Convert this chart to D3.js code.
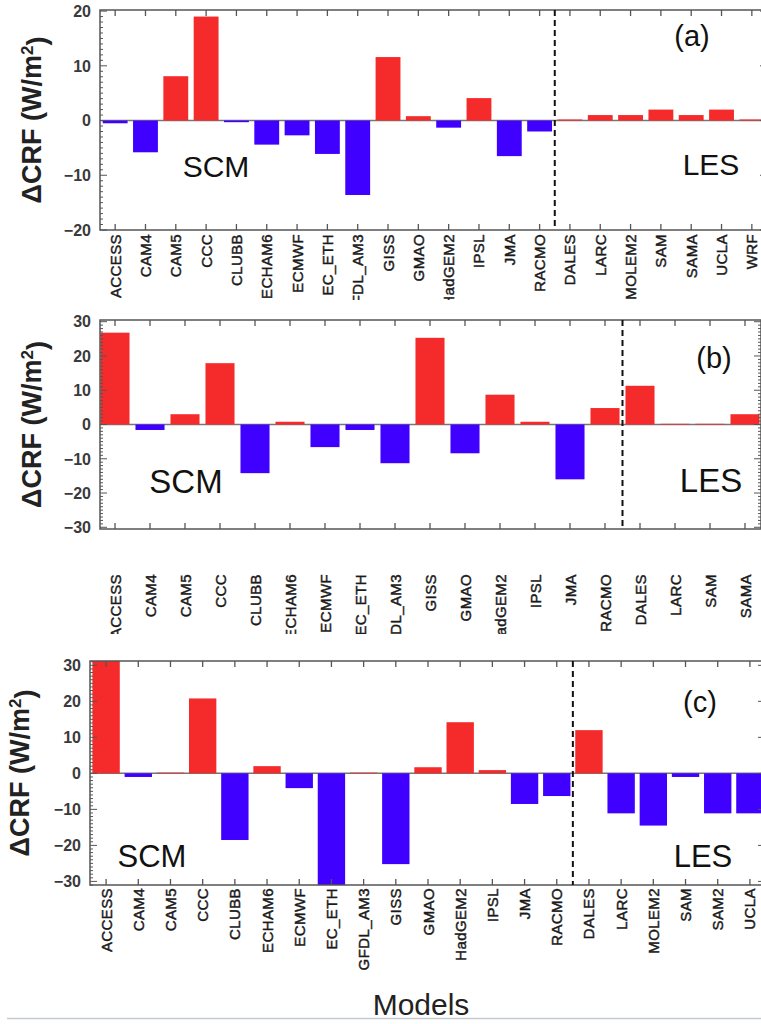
<!DOCTYPE html>
<html>
<head>
<meta charset="utf-8">
<script src="https://cdn.jsdelivr.net/npm/d3@7"></script>
<style>
  body { margin: 0; background: #fff; }
  svg { display: block; }
</style>
</head>
<body>
<div id="chart-container"></div>
<script>
// Model names and Delta CRF values (W/m2)
var modelsA = ["ACCESS", "CAM4", "CAM5", "CCC", "CLUBB", "ECHAM6", "ECMWF", "EC_ETH", "GFDL_AM3", "GISS", "GMAO",
  "HadGEM2", "IPSL", "JMA", "RACMO", "DALES", "LARC", "MOLEM2", "SAM", "SAMA", "UCLA", "WRF"];
var crfA = [-0.5, -5.8, 8.1, 19.0, -0.3, -4.4, -2.7, -6.1, -13.6, 11.6, 0.8,
  -1.3, 4.1, -6.5, -2.0, 0.2, 1.0, 1.0, 2.0, 1.0, 2.0, 0.2];

var modelsB = ["ACCESS", "CAM4", "CAM5", "CCC", "CLUBB", "ECHAM6", "ECMWF", "EC_ETH", "GFDL_AM3", "GISS", "GMAO",
  "HadGEM2", "IPSL", "JMA", "RACMO", "DALES", "LARC", "SAM", "SAMA"];
var crfB = [26.8, -1.6, 3.0, 17.9, -14.2, 0.8, -6.6, -1.6, -11.3, 25.3, -8.4,
  8.7, 0.8, -16.0, 4.8, 11.3, 0.2, 0.2, 3.0];

var modelsC = ["ACCESS", "CAM4", "CAM5", "CCC", "CLUBB", "ECHAM6", "ECMWF", "EC_ETH", "GFDL_AM3", "GISS", "GMAO",
  "HadGEM2", "IPSL", "JMA", "RACMO", "DALES", "LARC", "MOLEM2", "SAM", "SAM2", "UCLA"];
var crfC = [31.5, -1.0, 0.2, 20.8, -18.5, 2.0, -4.1, -31.5, 0.2, -25.2, 1.7,
  14.2, 0.9, -8.5, -6.3, 12.0, -11.1, -14.5, -1.0, -11.1, -11.1];

var yTicksA = [-20, -10, 0, 10, 20];
var yTicksBC = [-30, -20, -10, 0, 10, 20, 30];
var lastScm = "RACMO"; // dashed line goes after this model

var red = "#f52a2a", blue = "#3f00ff";

var width = 761, height = 1024;

var svg = d3.select("#chart-container")
  .append("svg")
  .attr("width", width)
  .attr("height", height)
  .style("font-family", "'Liberation Sans', Arial, sans-serif");

var defs = svg.append("defs");

// panel layouts (pixels)
var panels = [
  { id: "a", models: modelsA, values: crfA, ticks: yTicksA, domain: [-20, 20.2],
    left: 100, right: 767, top: 10, bottom: 230, band: [100, 767], pad: 0.18,
    labelTop: 234, labelClip: 300, titleX: 41, tagX: 692, tagY: 46, tagSize: 29,
    scmX: 216, scmY: 177, lesX: 711, lesY: 175, textSize: 30 },
  { id: "b", models: modelsB, values: crfB, ticks: yTicksBC, domain: [-30.5, 30.5],
    left: 100, right: 761, top: 320, bottom: 529, band: [97.5, 762.5], pad: 0.17,
    labelTop: 574, labelClip: 634, titleX: 41, tagX: 714, tagY: 368, tagSize: 29,
    scmX: 186, scmY: 493, lesX: 711, lesY: 492, textSize: 33 },
  { id: "c", models: modelsC, values: crfC, ticks: yTicksBC, domain: [-31, 31.2],
    left: 90, right: 765, top: 661, bottom: 885, band: [90, 766], pad: 0.15,
    labelTop: 888, labelClip: 1000, titleX: 29, tagX: 700, tagY: 712, tagSize: 29,
    scmX: 152, scmY: 867, lesX: 703, lesY: 867, textSize: 31 }
];

panels.forEach(function(p) {
  var g = svg.append("g").attr("class", "panel-" + p.id);

  var x = d3.scaleBand()
    .domain(p.models)
    .range(p.band)
    .paddingInner(p.pad)
    .paddingOuter(p.pad / 2);

  var y = d3.scaleLinear()
    .domain(p.domain)
    .range([p.bottom, p.top])
    .clamp(true);

  var cx = function(m) { return x(m) + x.bandwidth() / 2; };

  // zero line
  g.append("line")
    .attr("x1", p.left).attr("x2", p.right)
    .attr("y1", y(0)).attr("y2", y(0))
    .attr("stroke", "#777")
    .attr("stroke-width", 1.5);

  // bars
  g.selectAll(".bar")
    .data(p.models.map(function(m, i) { return { model: m, value: p.values[i] }; }))
    .enter().append("rect")
    .attr("class", "bar")
    .attr("x", function(d) { return x(d.model); })
    .attr("width", x.bandwidth())
    .attr("y", function(d) { return Math.min(y(d.value), y(0)); })
    .attr("height", function(d) { return Math.abs(y(d.value) - y(0)); })
    .attr("fill", function(d) { return d.value >= 0 ? red : blue; });

  // frame
  g.append("rect")
    .attr("x", p.left).attr("y", p.top)
    .attr("width", p.right - p.left)
    .attr("height", p.bottom - p.top)
    .attr("fill", "none")
    .attr("stroke", "#555")
    .attr("stroke-width", 1.5);

  // category ticks on top and bottom, pointing inward
  p.models.forEach(function(m) {
    g.append("line")
      .attr("x1", cx(m)).attr("x2", cx(m))
      .attr("y1", p.top).attr("y2", p.top + 6)
      .attr("stroke", "#555").attr("stroke-width", 1.3);
    g.append("line")
      .attr("x1", cx(m)).attr("x2", cx(m))
      .attr("y1", p.bottom).attr("y2", p.bottom - 6)
      .attr("stroke", "#555").attr("stroke-width", 1.3);
  });

  // minor and major y ticks on left and right
  var minor = d3.range(Math.ceil(p.domain[0]), Math.floor(p.domain[1]) + 1);
  minor.forEach(function(v) {
    var len = (v % 10 === 0) ? 7 : 3;
    g.append("line")
      .attr("x1", p.left).attr("x2", p.left + len)
      .attr("y1", y(v)).attr("y2", y(v))
      .attr("stroke", "#555").attr("stroke-width", 1);
    g.append("line")
      .attr("x1", p.right).attr("x2", p.right - len)
      .attr("y1", y(v)).attr("y2", y(v))
      .attr("stroke", "#555").attr("stroke-width", 1);
  });

  // y tick labels
  g.selectAll(".ytick")
    .data(p.ticks)
    .enter().append("text")
    .attr("class", "ytick")
    .attr("x", p.left - 9)
    .attr("y", function(d) { return y(d); })
    .attr("dy", "0.36em")
    .attr("text-anchor", "end")
    .style("font-size", "16px")
    .style("font-weight", "bold")
    .style("fill", "#3a3a3a")
    .text(function(d) { return d < 0 ? "\u2212" + Math.abs(d) : d; });

  // dashed separator between SCM and LES
  var idx = p.models.indexOf(lastScm);
  var sepX = (cx(p.models[idx]) + cx(p.models[idx + 1])) / 2;
  g.append("line")
    .attr("x1", sepX).attr("x2", sepX)
    .attr("y1", p.top).attr("y2", p.bottom)
    .attr("stroke", "#111")
    .attr("stroke-width", 2)
    .attr("stroke-dasharray", "6,4");

  // rotated model labels, clipped like the cropped original
  defs.append("clipPath")
    .attr("id", "clip-" + p.id)
    .append("rect")
    .attr("x", 0).attr("y", p.bottom)
    .attr("width", width)
    .attr("height", p.labelClip - p.bottom);

  g.append("g")
    .attr("clip-path", "url(#clip-" + p.id + ")")
    .selectAll(".xlabel")
    .data(p.models)
    .enter().append("text")
    .attr("class", "xlabel")
    .attr("transform", function(d) {
      return "translate(" + (cx(d) + 5.5) + "," + p.labelTop + ") rotate(-90)";
    })
    .attr("text-anchor", "end")
    .style("font-size", "15px")
    .style("letter-spacing", "0.4px")
    .style("fill", "#1a1a1a")
    .style("stroke", "#1a1a1a")
    .style("stroke-width", "0.45px")
    .text(function(d) { return d; });

  // y axis title
  var title = g.append("text")
    .attr("transform", "translate(" + p.titleX + "," + ((p.top + p.bottom) / 2) + ") rotate(-90)")
    .attr("text-anchor", "middle")
    .style("font-size", "27px")
    .style("font-weight", "bold")
    .style("fill", "#222");
  title.append("tspan").text("\u0394CRF (W/m");
  title.append("tspan").attr("dy", "-0.45em").style("font-size", "17px").text("2");
  title.append("tspan").attr("dy", "0.45em").text(")");

  // panel tag and group names
  g.append("text")
    .attr("x", p.tagX).attr("y", p.tagY)
    .attr("text-anchor", "middle")
    .style("font-size", p.tagSize + "px")
    .style("fill", "#111")
    .text("(" + p.id + ")");

  g.append("text")
    .attr("x", p.scmX).attr("y", p.scmY)
    .attr("text-anchor", "middle")
    .style("font-size", p.textSize + "px")
    .style("fill", "#111")
    .text("SCM");

  g.append("text")
    .attr("x", p.lesX).attr("y", p.lesY)
    .attr("text-anchor", "middle")
    .style("font-size", p.textSize + "px")
    .style("fill", "#111")
    .text("LES");
});

// shared x axis title
svg.append("text")
  .attr("x", 421)
  .attr("y", 1015)
  .attr("text-anchor", "middle")
  .style("font-size", "30px")
  .style("fill", "#222")
  .text("Models");

// thin grey rule under the figure
svg.append("line")
  .attr("x1", 7).attr("x2", width)
  .attr("y1", 1018.5).attr("y2", 1018.5)
  .attr("stroke", "#c5c9d1")
  .attr("stroke-width", 1.5);
</script>
</body>
</html>
